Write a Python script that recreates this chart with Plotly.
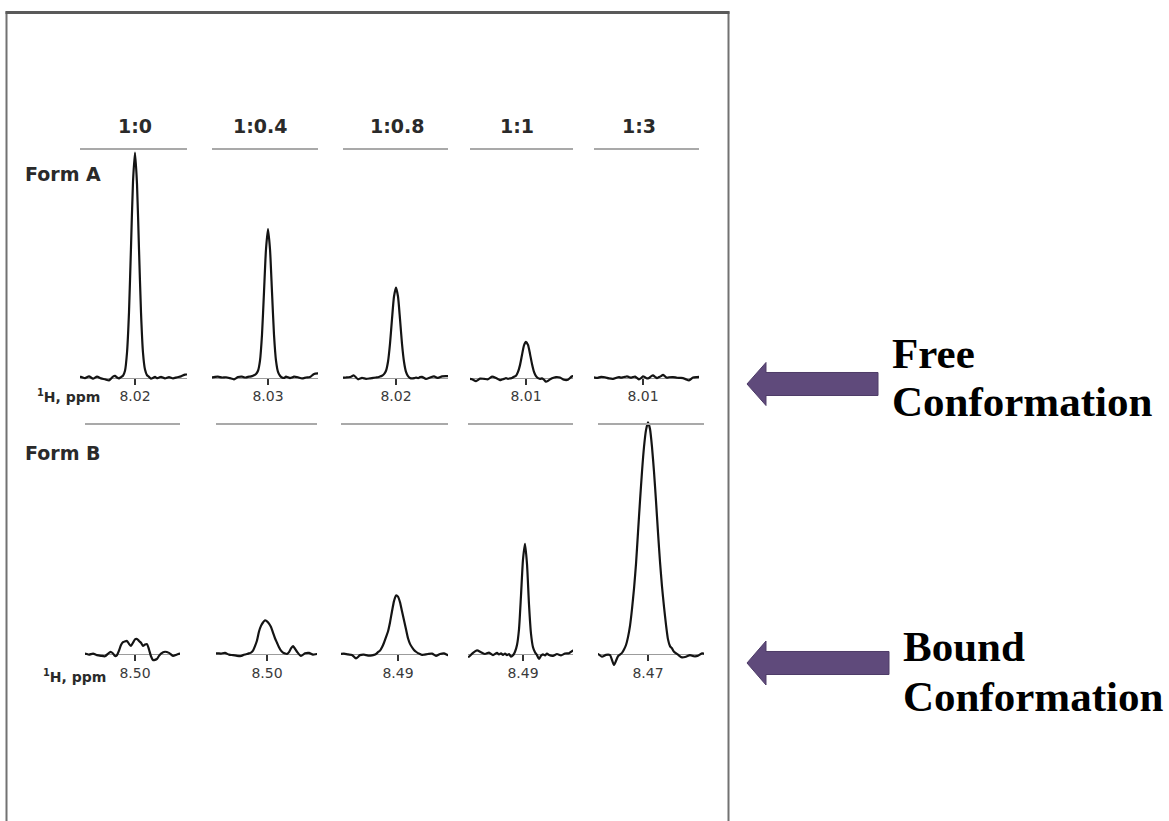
import plotly.graph_objects as go

# ---------------------------------------------------------------------------
# Data: 1H NMR signal of the observed proton at each titration ratio
# ---------------------------------------------------------------------------
ratios = ["1:0", "1:0.4", "1:0.8", "1:1", "1:3"]

# chemical shift labelled under each spectrum (ppm)
form_a_ppm = [8.02, 8.03, 8.02, 8.01, 8.01]
form_b_ppm = [8.50, 8.50, 8.49, 8.49, 8.47]

# sampling points of every trace, in 0.001 ppm relative to the labelled shift
# (listed from high ppm on the left to low ppm on the right)
offset_mppm = [58, 54, 50, 46, 42, 38, 34, 30, 26,
               24, 22, 20, 18, 16, 14, 12, 10, 8, 6, 4, 2, 0,
               -2, -4, -6, -8, -10, -12, -14, -16, -18, -20, -22, -24,
               -26, -30, -34, -38, -42, -46, -50, -54, -58]

# intensities (arbitrary units, Form A at 1:0 = 100)
form_a_r0 = [0.2, 0.3, -0.3, 0.5, -0.5, 0.4, -0.4, -0.8, -1.3,
             -0.5, 0.4, 0.7, 0.0, -0.4, 0.2, 0.8, 3.0, 11.0, 29.0, 58.0, 87.0, 100.0,
             86.0, 57.0, 29.0, 11.0, 3.5, 1.0, 0.3, -0.5, -0.2, 0.3, -0.3, 0.0,
             0.3, -0.4, 0.2, -0.4, 0.1, 0.5, 1.3, 1.3, 1.3]
form_a_r04 = [0.0, 0.2, 0.4, 0.0, 0.1, -0.3, -0.8, 0.2, 0.4,
              0.1, 0.0, 0.3, 0.4, 0.6, 1.0, 1.6, 3.0, 7.5, 19.0, 38.0, 57.0, 66.0,
              57.0, 38.0, 19.0, 7.5, 2.5, 0.8, 0.0, -0.2, 0.4, 0.1, -0.3, 0.0,
              0.4, 0.1, -0.4, 0.0, 0.2, 1.6, 1.8, 1.8, 1.8]
form_a_r08 = [0.0, -0.1, 0.0, 0.2, 0.9, -0.8, -0.2, -0.6, -0.4,
              -0.3, -0.1, 0.0, 0.1, 0.4, 0.8, 1.5, 3.0, 7.0, 15.0, 26.0, 36.0, 40.0,
              36.0, 26.0, 15.0, 7.0, 2.5, 0.6, -0.2, -0.4, -0.3, 0.0, -0.3, 0.2,
              0.3, -0.6, 0.0, 0.5, -0.2, 0.5, 0.6, 0.6, 0.6]
form_a_r1 = [-0.5, -0.8, -1.6, -0.5, -0.6, -0.8, 0.4, -0.2, -1.2,
             -0.9, -0.6, -0.3, -0.6, -0.4, -0.2, 0.3, 0.8, 2.5, 5.5, 10.0, 14.3, 15.8,
             14.5, 10.5, 6.0, 2.5, 0.6, -0.3, -0.6, -0.4, -1.0, -1.9, -1.5, -0.8,
             -0.3, 0.2, 0.0, -1.0, -1.0, 0.5, 0.6, 0.6, 0.6]
form_a_r3 = [0.0, 0.0, 0.1, -0.2, 0.3, 0.1, -0.4, -0.6, 0.0,
             0.2, -0.1, 0.1, 0.3, 0.5, 0.2, -0.1, 0.2, 0.4, -0.2, -0.8, -0.3, 0.5,
             0.1, -0.4, -0.2, 0.5, 0.9, 0.3, -0.3, 0.2, 0.6, 1.2, 0.5, -0.1,
             0.1, 0.2, -0.1, -0.2, -0.6, -1.3, 0.0, 0.2, 0.3]

form_b_r0 = [0.0, 0.0, 0.2, -0.3, 0.2, -0.5, -0.8, -1.0, 0.5,
             0.9, 0.2, -0.9, -0.5, 1.5, 4.0, 5.3, 5.6, 5.8, 4.5, 3.6, 5.0, 6.5,
             6.7, 5.8, 5.0, 3.6, 4.2, 4.4, 2.0, -1.0, -2.7, -2.6, -2.2, -0.8,
             0.2, 1.0, 0.5, -0.8, -0.2, 0.2, 0.0, 0.0, 0.0]
form_b_r04 = [0.0, 0.0, 0.3, 0.2, 0.5, -0.3, -0.5, -0.8, -0.9,
              -0.5, -0.2, 0.0, 0.3, 0.6, 1.5, 3.5, 6.0, 10.0, 12.5, 14.0, 15.0, 14.5,
              13.5, 12.0, 9.5, 7.0, 5.0, 3.0, 1.5, 0.6, 0.2, 0.0, 0.8, 2.5,
              3.5, 1.0, -0.9, 0.3, 0.5, -0.3, 0.0, 0.0, 0.0]
form_b_r08 = [0.0, 0.2, -0.2, -0.4, -2.0, -0.5, -0.3, -0.7, -0.6,
              -0.4, 0.0, 0.8, 1.5, 3.0, 5.0, 7.5, 10.0, 14.0, 19.0, 23.5, 26.0, 25.5,
              23.0, 19.0, 15.0, 11.0, 7.0, 4.5, 3.0, 1.8, 1.0, 0.4, 0.0, -0.4,
              -0.3, 0.0, 0.2, -0.8, 0.0, 0.3, -0.5, 0.0, 0.0]
form_b_r1 = [-1.0, -1.2, 0.5, 1.6, 0.8, 0.0, 0.6, -0.5, 0.5,
             -0.2, 0.3, -0.4, 0.2, -0.5, 0.0, -1.2, -0.6, 1.0, 4.0, 11.0, 26.0, 42.0,
             49.0, 40.0, 22.0, 9.0, 3.0, 0.8, -0.5, -2.2, -0.8, -0.2, -0.6, 0.2,
             -0.4, -0.8, 0.0, -0.6, 0.2, 0.3, 1.5, 1.5, 1.5]
form_b_r3 = [0.0, 0.0, 0.0, -1.2, -0.4, -0.5, -4.8, -1.0, 0.5,
             2.0, 4.0, 7.5, 12.5, 20.0, 29.0, 40.0, 54.0, 68.0, 81.0, 92.0, 99.5, 103.0,
             100.0, 92.0, 81.0, 68.0, 54.0, 41.0, 30.0, 21.0, 13.0, 6.5, 3.5, 2.5,
             1.0, -0.3, -1.5, -1.2, -0.5, -1.0, -0.8, 0.3, 0.0]

form_a_spectra = [form_a_r0, form_a_r04, form_a_r08, form_a_r1, form_a_r3]
form_b_spectra = [form_b_r0, form_b_r04, form_b_r08, form_b_r1, form_b_r3]

# ---------------------------------------------------------------------------
# Layout geometry (pixels of a 1169 x 821 page)
# ---------------------------------------------------------------------------
W, H = 1169, 821


def px(x):
    return x / W


def py(y):
    return 1 - y / H


PX_PER_UNIT = 2.25      # vertical pixels per intensity unit
PX_PER_MPPM = 1.0       # horizontal pixels per 0.001 ppm

# (left edge, tick, right edge) of every small spectrum panel
panels_a = [(80, 135, 187), (212, 268, 318), (343, 396, 448), (470, 526, 573), (594, 643, 699)]
panels_b = [(85, 135, 180), (216, 267, 317), (341, 398, 448), (468, 523, 573), (598, 648, 704)]
row_a = dict(base=377.5, top=140, bottom=392, header=149)
row_b = dict(base=654, top=415, bottom=668, header=424)
header_x = [134.5, 259.5, 397, 516.5, 639]

TRACE_COLOR = "#141414"
TEXT_COLOR = "#2a2a2a"
ARROW_FILL = "#5f4a7b"

fig = go.Figure()
layout_axes = {}
shapes = []
annotations = []

rows = [(form_a_spectra, form_a_ppm, panels_a, row_a),
        (form_b_spectra, form_b_ppm, panels_b, row_b)]

n = 0
for spectra, shifts, panels, row in rows:
    for spec, shift, (left, tick, right) in zip(spectra, shifts, panels):
        n += 1
        xname = "x" if n == 1 else f"x{n}"
        yname = "y" if n == 1 else f"y{n}"
        xkey = "xaxis" if n == 1 else f"xaxis{n}"
        ykey = "yaxis" if n == 1 else f"yaxis{n}"

        xs = [shift + o / 1000 for o in offset_mppm]
        fig.add_trace(go.Scatter(
            x=xs, y=spec, mode="lines",
            line=dict(color=TRACE_COLOR, width=2.2, shape="spline", smoothing=0.6),
            xaxis=xname, yaxis=yname, showlegend=False, hoverinfo="skip"))

        # reversed ppm axis with a single tick at the labelled shift
        x_hi = shift + (tick - left) / PX_PER_MPPM / 1000
        x_lo = shift - (right - tick) / PX_PER_MPPM / 1000
        layout_axes[xkey] = dict(
            domain=[px(left), px(right)], range=[x_hi, x_lo], autorange=False,
            anchor="free", position=py(row["base"]), side="bottom",
            showline=True, linecolor="#9c9c9c", linewidth=1.2, layer="below traces",
            ticks="outside", ticklen=6, tickwidth=1.5, tickcolor="#333333",
            tickvals=[shift], ticktext=[f"{shift:.2f}"],
            tickfont=dict(family="DejaVu Sans", size=14, color="#3a3a3a"),
            showgrid=False, zeroline=False, fixedrange=True)
        layout_axes[ykey] = dict(
            domain=[py(row["bottom"]), py(row["top"])],
            range=[-(row["bottom"] - row["base"]) / PX_PER_UNIT,
                   (row["base"] - row["top"]) / PX_PER_UNIT],
            autorange=False, visible=False, anchor=xname, fixedrange=True)

        # grey rule above each panel
        shapes.append(dict(type="line", xref=f"{xname} domain", yref="paper",
                           x0=0, x1=1, y0=py(row["header"]), y1=py(row["header"]),
                           line=dict(color="#a9a9a9", width=2)))

# ratio headers
for label, hx in zip(ratios, header_x):
    annotations.append(dict(text=label, x=px(hx), y=py(126), xref="paper", yref="paper",
                            xanchor="center", yanchor="middle", showarrow=False,
                            font=dict(family="DejaVu Sans", size=19, weight="bold",
                                      color=TEXT_COLOR)))

# row labels and axis unit labels
for text, x, y in [("Form A", 23, 174), ("Form B", 23, 453)]:
    annotations.append(dict(text=text, x=px(x), y=py(y), xref="paper", yref="paper",
                            xanchor="left", yanchor="middle", showarrow=False,
                            font=dict(family="DejaVu Sans", size=19, weight="bold",
                                      color=TEXT_COLOR)))
for x, y in [(35, 396), (41, 676)]:
    annotations.append(dict(text="<sup>1</sup>H, ppm", x=px(x), y=py(y),
                            xref="paper", yref="paper", xanchor="left", yanchor="middle",
                            showarrow=False,
                            font=dict(family="DejaVu Sans", size=14, weight="bold",
                                      color=TEXT_COLOR)))

# state labels beside the arrows
for text, x, y in [("Free", 890, 353), ("Conformation", 890, 402),
                   ("Bound", 901, 646), ("Conformation", 901, 696)]:
    annotations.append(dict(text=text, x=px(x), y=py(y), xref="paper", yref="paper",
                            xanchor="left", yanchor="middle", showarrow=False,
                            font=dict(family="Liberation Serif", size=43, weight="bold",
                                      color="#000000")))


def block_arrow(tip_x, tip_y, head_x, head_half, shaft_half, tail_x):
    pts = [(tip_x, tip_y), (head_x, tip_y - head_half), (head_x, tip_y - shaft_half),
           (tail_x, tip_y - shaft_half), (tail_x, tip_y + shaft_half),
           (head_x, tip_y + shaft_half), (head_x, tip_y + head_half)]
    path = "M " + " L ".join(f"{px(a):.5f},{py(b):.5f}" for a, b in pts) + " Z"
    return dict(type="path", path=path, xref="paper", yref="paper",
                fillcolor=ARROW_FILL, line=dict(color="#4e3c68", width=1))


shapes.append(block_arrow(747, 384, 766, 21.5, 11.5, 878))
shapes.append(block_arrow(747, 663, 766, 22, 11.5, 889))

# frame around the spectra (bottom edge runs off the page)
shapes.append(dict(type="rect", xref="paper", yref="paper",
                   x0=px(6.5), x1=px(728.5), y0=py(840), y1=py(12.5),
                   line=dict(color="#727272", width=2)))
shapes.append(dict(type="line", xref="paper", yref="paper",
                   x0=px(5.5), x1=px(729.5), y0=py(12.5), y1=py(12.5),
                   line=dict(color="#5a5a5a", width=3)))

fig.update_layout(
    width=W, height=H,
    margin=dict(l=0, r=0, t=0, b=0),
    paper_bgcolor="white", plot_bgcolor="white",
    showlegend=False,
    shapes=shapes, annotations=annotations,
    **layout_axes)

fig.write_html("out.html")
